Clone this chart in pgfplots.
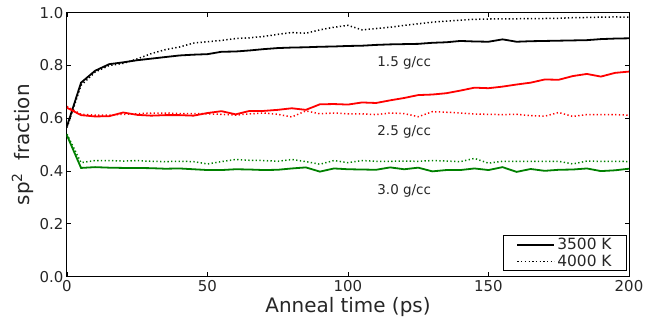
\documentclass[border=0pt]{standalone}
\usepackage{fontspec}
\setmainfont{DejaVu Sans}
\usepackage{pgfplots}
\pgfplotsset{compat=1.18}
\usepackage{pgfplotstable}

\pgfplotstableread{
t   bs     bd     rs     rd     gs     gd
0   0.570  0.565  0.640  0.645  0.535  0.540
5   0.735  0.725  0.612  0.615  0.412  0.432
10  0.780  0.775  0.607  0.612  0.415  0.440
15  0.805  0.800  0.608  0.612  0.413  0.440
20  0.812  0.808  0.622  0.615  0.412  0.438
25  0.820  0.825  0.613  0.617  0.412  0.440
30  0.826  0.845  0.610  0.620  0.411  0.437
35  0.832  0.860  0.612  0.620  0.409  0.436
40  0.838  0.870  0.612  0.618  0.410  0.437
45  0.841  0.885  0.610  0.618  0.407  0.436
50  0.843  0.890  0.620  0.617  0.404  0.427
55  0.852  0.895  0.627  0.615  0.404  0.436
60  0.853  0.902  0.615  0.612  0.407  0.444
65  0.857  0.905  0.628  0.617  0.406  0.441
70  0.862  0.910  0.628  0.620  0.404  0.440
75  0.866  0.918  0.632  0.615  0.405  0.437
80  0.868  0.925  0.638  0.605  0.410  0.444
85  0.869  0.922  0.632  0.628  0.414  0.436
90  0.871  0.935  0.653  0.617  0.398  0.426
95  0.872  0.945  0.654  0.620  0.410  0.440
100 0.874  0.952  0.652  0.617  0.407  0.432
105 0.875  0.935  0.660  0.617  0.406  0.440
110 0.878  0.940  0.658  0.614  0.405  0.437
115 0.880  0.945  0.668  0.620  0.414  0.437
120 0.881  0.952  0.677  0.618  0.407  0.438
125 0.882  0.958  0.688  0.606  0.413  0.437
130 0.886  0.964  0.690  0.625  0.399  0.440
135 0.888  0.968  0.695  0.623  0.404  0.438
140 0.893  0.972  0.705  0.620  0.404  0.436
145 0.891  0.975  0.716  0.616  0.410  0.448
150 0.890  0.976  0.714  0.615  0.404  0.430
155 0.899  0.977  0.720  0.614  0.415  0.437
160 0.890  0.977  0.728  0.615  0.397  0.437
165 0.892  0.978  0.735  0.610  0.408  0.437
170 0.893  0.978  0.747  0.608  0.401  0.437
175 0.894  0.979  0.746  0.622  0.405  0.437
180 0.895  0.981  0.760  0.607  0.406  0.427
185 0.896  0.982  0.768  0.614  0.410  0.438
190 0.900  0.983  0.758  0.614  0.400  0.437
195 0.902  0.984  0.772  0.614  0.403  0.437
200 0.903  0.983  0.777  0.612  0.409  0.436
}\data

\definecolor{mgreen}{RGB}{0,128,0}

\begin{document}
\begin{tikzpicture}
\begin{axis}[
  name=ax,
  scale only axis,
  width=562bp, height=264bp,
  xmin=0, xmax=200, ymin=0, ymax=1,
  xtick={0,50,100,150,200},
  ytick={0,0.2,0.4,0.6,0.8,1.0},
  yticklabel style={/pgf/number format/fixed,/pgf/number format/fixed zerofill,/pgf/number format/precision=1},
  /pgf/number format/assume math mode=true,
  tick label style={font=\fontsize{15}{18}\selectfont, text=black!85},
  tick align=inside,
  major tick length=4.5bp,
  axis line style={line width=1bp},
  every tick/.style={black, line width=0.8bp},
  xlabel={Anneal time (ps)},
  ylabel={sp\textsuperscript{2}\hspace{0.6em}fraction},
  label style={font=\fontsize{20}{24}\selectfont, text=black!85},
  xlabel style={yshift=1bp},
  ylabel style={yshift=-1bp},
  legend style={at={(rel axis cs:0.9964,0.0216)}, anchor=south east, draw=black, line width=0.7bp,
    font=\fontsize{15.5}{17}\selectfont, inner xsep=13bp, inner ysep=0.5bp, row sep=0pt, text=black!85,
    nodes={inner ysep=2bp}},
  legend cell align=left,
  legend image code/.code={\draw[#1] (0bp,0bp) -- (28bp,0bp); \path (0bp,0bp) -- (37bp,0bp);},
  clip=false,
]
\addplot[black, line width=1.8bp] table[x=t,y=bs]{\data};
\addlegendentry{3500 K}
\addplot[black, line width=1.5bp, dash pattern=on 1.3bp off 2.4bp] table[x=t,y=bd]{\data};
\addlegendentry{4000 K}
\addplot[red, line width=1.8bp, forget plot] table[x=t,y=rs]{\data};
\addplot[red, line width=1.5bp, dash pattern=on 1.3bp off 2.4bp, forget plot] table[x=t,y=rd]{\data};
\addplot[mgreen, line width=1.8bp, forget plot] table[x=t,y=gs]{\data};
\addplot[mgreen, line width=1.5bp, dash pattern=on 1.3bp off 2.4bp, forget plot] table[x=t,y=gd]{\data};
\node[font=\fontsize{13.5}{16}\selectfont, text=black!85] at (axis cs:120,0.81) {1.5 g/cc};
\node[font=\fontsize{13.5}{16}\selectfont, text=black!85] at (axis cs:120,0.548) {2.5 g/cc};
\node[font=\fontsize{13.5}{16}\selectfont, text=black!85] at (axis cs:120,0.326) {3.0 g/cc};
\end{axis}
\pgfresetboundingbox
\path ([xshift=-67bp,yshift=-47.3bp]ax.south west) rectangle ([xshift=16bp,yshift=12.7bp]ax.north east);
\end{tikzpicture}
\end{document}
